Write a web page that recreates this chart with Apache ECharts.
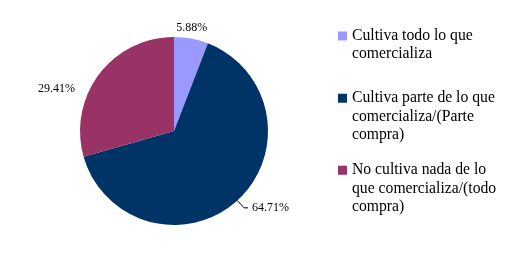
<!DOCTYPE html>
<html><head><meta charset="utf-8">
<script src="https://cdn.jsdelivr.net/npm/echarts@6/dist/echarts.min.js"></script>
<style>html,body{margin:0;padding:0;background:#fff}#c{width:526px;height:254px}</style>
</head><body><div id="c"></div>
<script>
const categories = [
  'Cultiva todo lo que\ncomercializa',
  'Cultiva parte de lo que\ncomercializa/(Parte\ncompra)',
  'No cultiva nada de lo\nque comercializa/(todo\ncompra)'
];
const values = [5.88, 64.71, 29.41];
const colors = ['#9999FF', '#003366', '#993366'];

// style / layout config (not data)
const legendTops = [8.5, 52.5, 124.5];
const LH = 18.3;
const labelCfg = [
  { distanceToLabelLine: 5 },
  { distanceToLabelLine: 4, padding: [0, 0, 10, 0] },
  { distanceToLabelLine: 5 }
];
const lineCfg = [
  { show: false, length: 11, length2: 0 },
  { show: true, length: 10, length2: 4 },
  { show: false, length: 5, length2: 0 }
];
const labelShift = [{ dx: -22, dy: 0 }, {}, { dx: -15, dy: 17.6 }];

const chart = echarts.init(document.getElementById('c'), null, { renderer: 'canvas' });
chart.setOption({
  backgroundColor: '#fff',
  animation: false,
  legend: categories.map((name, i) => {
    const lines = name.split('\n').length;
    return {
      data: [name],
      left: 338,
      top: legendTops[i],
      orient: 'vertical',
      padding: 0,
      itemWidth: 9,
      itemHeight: 9,
      icon: 'rect',
      selectedMode: false,
      // leading blank lines keep the first text line level with the marker
      formatter: n => '\n'.repeat(lines - 1) + n,
      textStyle: {
        fontFamily: 'Liberation Serif',
        fontSize: 15.7,
        color: '#000',
        lineHeight: LH
      }
    };
  }),
  series: [{
    type: 'pie',
    center: [174, 131],
    radius: 94,
    startAngle: 90,
    clockwise: true,
    avoidLabelOverlap: false,
    itemStyle: { borderWidth: 0 },
    emphasis: { disabled: true },
    label: {
      show: true,
      position: 'outside',
      fontFamily: 'Liberation Serif',
      fontSize: 12,
      color: '#000',
      formatter: p => p.value.toFixed(2) + '%'
    },
    labelLine: { show: true, lineStyle: { color: '#000', width: 1 } },
    labelLayout: p => labelShift[p.dataIndex],
    data: values.map((v, i) => ({
      name: categories[i],
      value: v,
      itemStyle: { color: colors[i] },
      label: labelCfg[i],
      labelLine: lineCfg[i]
    }))
  }]
});
</script>
</body></html>
